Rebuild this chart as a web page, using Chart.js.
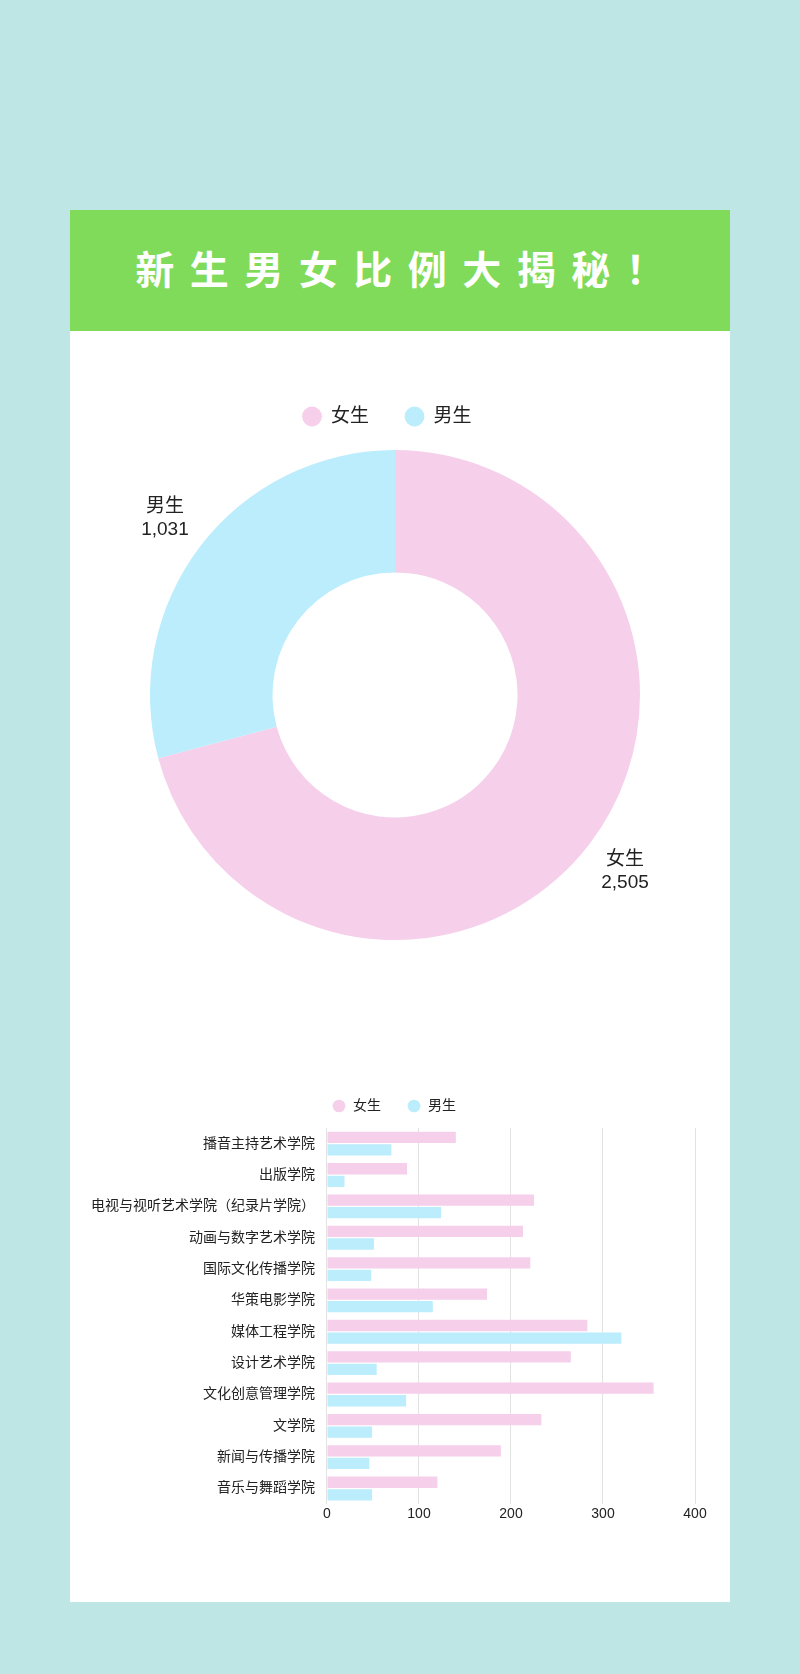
<!DOCTYPE html>
<html>
<head>
<meta charset="utf-8">
<script src="https://cdn.jsdelivr.net/npm/chart.js@4.4.1/dist/chart.umd.min.js"></script>
<style>
  html, body { margin: 0; padding: 0; }
  body {
    width: 800px;
    height: 1674px;
    background: #bde6e5;
    position: relative;
    font-family: "Liberation Sans", "Noto Sans CJK SC", sans-serif;
  }
  .card {
    position: absolute;
    left: 70px;
    top: 210px;
    width: 660px;
    height: 1392px;
    background: #fff;
  }
  .header {
    position: absolute;
    left: 0;
    top: 0;
    width: 660px;
    height: 121px;
    background: #80db5a;
    color: #fff;
    font-family: "Noto Sans CJK SC", sans-serif;
    font-weight: bold;
    font-size: 39px;
    letter-spacing: 15.5px;
    text-indent: 15.5px;
    line-height: 115px;
    text-align: center;
  }
  .chart-box { position: absolute; }
  #pie-box { left: 70px; top: 371px; width: 660px; height: 634px; }
  #bar-box { left: 70px; top: 1073px; width: 660px; height: 468px; }
</style>
</head>
<body>
<div class="card">
  <div class="header">新生男女比例大揭秘！</div>
</div>
<div class="chart-box" id="pie-box"><canvas id="pie-chart"></canvas></div>
<div class="chart-box" id="bar-box"><canvas id="bar-chart"></canvas></div>

<script>
// ================================
// Data
// ================================
const genderLabels = ["女生", "男生"];
const genderTotals = [2505, 1031];

const colleges = [
    "播音主持艺术学院",
    "出版学院",
    "电视与视听艺术学院（纪录片学院）",
    "动画与数字艺术学院",
    "国际文化传播学院",
    "华策电影学院",
    "媒体工程学院",
    "设计艺术学院",
    "文化创意管理学院",
    "文学院",
    "新闻与传播学院",
    "音乐与舞蹈学院",
];
const femaleCounts = [140, 87, 225, 213, 221, 174, 283, 265, 355, 233, 189, 120];
const maleCounts = [70, 19, 124, 51, 48, 115, 320, 54, 86, 49, 46, 49];
const xTicks = [0, 100, 200, 300, 400];

// ================================
// Utils
// ================================
const COLORS = {
    pink: "#f6cfeb",
    blue: "#bbedfd",
    text: "#222",
    grid: "#e2e2e2",
};
const FONT = "'Liberation Sans', 'Noto Sans CJK SC', sans-serif";

Chart.defaults.font.family = FONT;
Chart.defaults.color = COLORS.text;

// fixes the legend height (and nudges it sideways) so everything lands where it should
const legendBox = {
    id: "legendBox",
    beforeInit(chart, args, opts) {
        const fit = chart.legend.fit;
        chart.legend.fit = function () {
            fit.bind(chart.legend)();
            this.height = opts.height;
        };
    },
    afterLayout(chart, args, opts) {
        const dx = opts.shiftX || 0;
        chart.legend.left += dx;
        chart.legend.right += dx;
    },
};

// name + count written outside each slice
const outerLabels = {
    id: "outerLabels",
    afterDatasetsDraw(chart) {
        const ctx = chart.ctx;
        const meta = chart.getDatasetMeta(0);
        ctx.save();
        ctx.fillStyle = COLORS.text;
        ctx.textAlign = "center";
        ctx.textBaseline = "middle";
        ctx.font = "19px " + FONT;
        meta.data.forEach((arc, i) => {
            const p = arc.getProps(["x", "y", "startAngle", "endAngle", "outerRadius"], true);
            const mid = (p.startAngle + p.endAngle) / 2;
            const r = p.outerRadius + 45;
            const x = p.x + Math.cos(mid) * r;
            const y = p.y + Math.sin(mid) * r;
            ctx.fillText(chart.data.labels[i], x, y - 11.5);
            ctx.fillText(genderTotals[i].toLocaleString("en-US"), x, y + 11.5);
        });
        ctx.restore();
    },
};

// ================================
// Doughnut
// ================================
new Chart(document.getElementById("pie-chart"), {
    type: "doughnut",
    data: {
        labels: genderLabels,
        datasets: [{
            data: genderTotals,
            backgroundColor: [COLORS.pink, COLORS.blue],
            borderWidth: 0,
        }],
    },
    options: {
        responsive: true,
        maintainAspectRatio: false,
        animation: false,
        cutout: "50%",
        layout: { padding: { left: 80, right: 90, top: 0, bottom: 65 } },
        plugins: {
            legendBox: { height: 79, shiftX: -8 },
            tooltip: { enabled: false },
            legend: {
                display: true,
                position: "top",
                labels: {
                    usePointStyle: true,
                    pointStyle: "circle",
                    boxWidth: 19,
                    boxHeight: 14,
                    padding: 36,
                    font: { size: 19 },
                    color: COLORS.text,
                },
            },
        },
    },
    plugins: [legendBox, outerLabels],
});

// ================================
// Horizontal bars
// ================================
new Chart(document.getElementById("bar-chart"), {
    type: "bar",
    data: {
        labels: colleges,
        datasets: [
            { label: "女生", data: femaleCounts, backgroundColor: COLORS.pink },
            { label: "男生", data: maleCounts, backgroundColor: COLORS.blue },
        ],
    },
    options: {
        indexAxis: "y",
        responsive: true,
        maintainAspectRatio: false,
        animation: false,
        layout: { padding: { left: 9, right: 35, top: 0, bottom: 16 } },
        plugins: {
            legendBox: { height: 55, shiftX: 7 },
            tooltip: { enabled: false },
            legend: {
                display: true,
                position: "top",
                labels: {
                    usePointStyle: true,
                    pointStyle: "circle",
                    boxWidth: 14,
                    boxHeight: 9,
                    padding: 26,
                    font: { size: 14 },
                    color: COLORS.text,
                },
            },
        },
        scales: {
            x: {
                min: xTicks[0],
                max: xTicks[xTicks.length - 1],
                afterBuildTicks(axis) {
                    axis.ticks = xTicks.map((v) => ({ value: v }));
                },
                grid: { color: COLORS.grid, drawTicks: false },
                border: { display: false },
                ticks: { padding: 2, font: { size: 14 }, color: COLORS.text },
            },
            y: {
                grid: { display: false, drawTicks: false },
                border: { display: false },
                ticks: { padding: 12, font: { size: 14 }, color: COLORS.text },
            },
        },
    },
    plugins: [legendBox],
});
</script>
</body>
</html>
